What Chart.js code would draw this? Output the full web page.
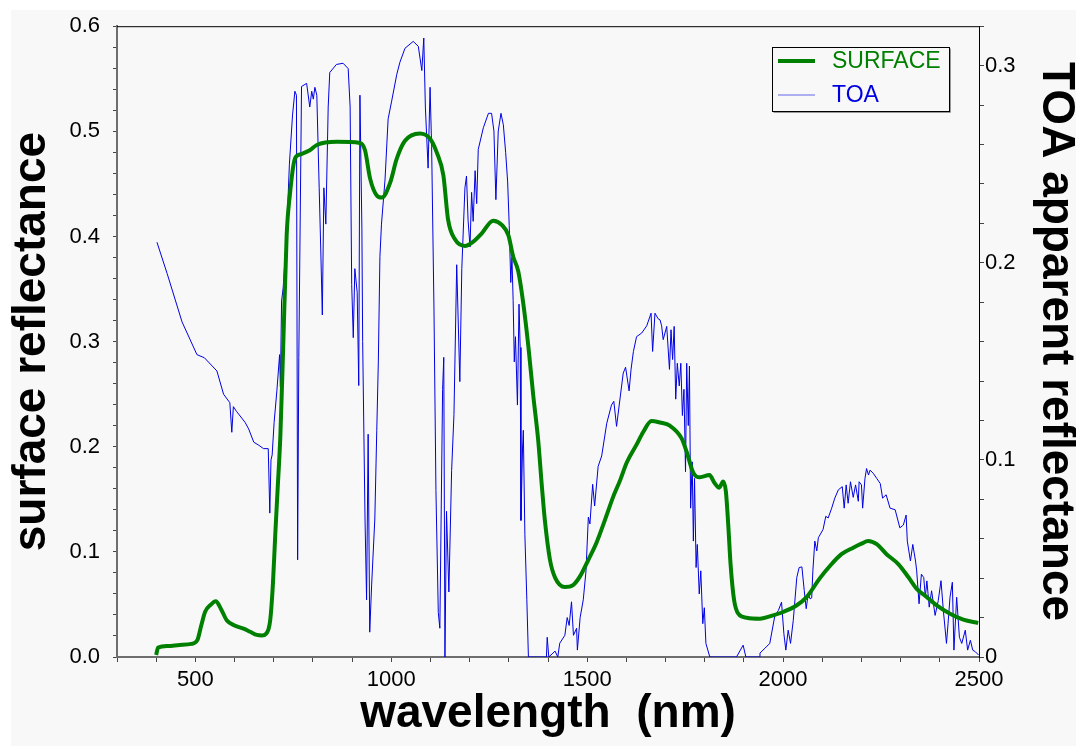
<!DOCTYPE html>
<html>
<head>
<meta charset="utf-8">
<title>surface and TOA reflectance</title>
<style>
    html, body { margin: 0; padding: 0; background: #ffffff; }
    #wrap { width: 1076px; height: 747px; }
</style>
</head>
<body>
<div id="wrap"><canvas id="myChart" width="1076" height="747"></canvas></div>

<script src="https://cdn.jsdelivr.net/npm/chart.js"></script>
<script>
// surface reflectance (left axis)
const surfaceWavelength = [
    400, 405, 430, 460, 490, 505, 515, 525, 540, 552, 565, 580, 600, 623, 640, 657, 670, 680, 691, 698,
    704, 710, 717, 724, 733, 741, 754, 767, 792, 810, 861, 920, 933, 946, 963, 976, 997, 1014, 1035, 1073,
    1099, 1116, 1133, 1145, 1163, 1188, 1209, 1231, 1260, 1282, 1299, 1311, 1324, 1337, 1350, 1362, 1375, 1384, 1392, 1405,
    1418, 1443, 1464, 1482, 1503, 1524, 1545, 1567, 1584, 1601, 1626, 1643, 1664, 1686, 1711, 1741, 1754, 1771, 1788, 1812,
    1826, 1837, 1847, 1854, 1860, 1866, 1875, 1886, 1907, 1941, 1966, 2000, 2034, 2060, 2094, 2120, 2149, 2179, 2200, 2217,
    2239, 2264, 2294, 2320, 2341, 2367, 2392, 2426, 2460, 2498
];
const surfaceValues = [
    0.002, 0.009, 0.0105, 0.0115, 0.0125, 0.016, 0.03, 0.043, 0.05, 0.053, 0.046, 0.035, 0.03, 0.027, 0.024, 0.021, 0.0205, 0.022, 0.035, 0.07,
    0.117, 0.16, 0.211, 0.293, 0.401, 0.439, 0.474, 0.478, 0.482, 0.487, 0.49, 0.489, 0.482, 0.455, 0.439, 0.437, 0.451, 0.474, 0.491, 0.498,
    0.493, 0.48, 0.458, 0.416, 0.397, 0.391, 0.395, 0.403, 0.415, 0.411, 0.401, 0.381, 0.367, 0.336, 0.295, 0.25, 0.206, 0.164, 0.13, 0.0925,
    0.0755, 0.0666, 0.0684, 0.0769, 0.0925, 0.109, 0.13, 0.153, 0.168, 0.185, 0.202, 0.214, 0.2245, 0.223, 0.22, 0.208, 0.195, 0.175, 0.171, 0.173,
    0.165, 0.161, 0.167, 0.1575, 0.126, 0.088, 0.054, 0.041, 0.0374, 0.0365, 0.0387, 0.0428, 0.049, 0.057, 0.075, 0.0868, 0.0978, 0.104, 0.1078, 0.1104,
    0.1073, 0.0978, 0.0884, 0.0758, 0.0648, 0.0569, 0.049, 0.0412, 0.0355, 0.0324
];

// TOA apparent reflectance (right axis)
const toaWavelength = [
    402, 428, 466, 504, 523, 555, 572, 588, 593, 597, 605, 627, 636, 649, 662, 674, 686, 690, 693, 696,
    701, 708, 715, 717, 720, 724, 733, 740, 748, 754, 758, 761, 764, 771, 784, 792, 797, 801, 805, 810,
    816, 820, 824, 828, 833, 839, 843, 860, 877, 890, 895, 899, 903, 907, 913, 917, 920, 925, 927, 933,
    937, 941, 945, 950, 958, 963, 967, 971, 975, 984, 992, 1001, 1014, 1022, 1035, 1056, 1069, 1078, 1083, 1087,
    1094, 1099, 1103, 1109, 1114, 1120, 1124, 1131, 1134, 1137, 1141, 1147, 1154, 1160, 1167, 1175, 1180, 1188, 1192, 1196,
    1201, 1205, 1209, 1214, 1218, 1222, 1235, 1248, 1256, 1262, 1267, 1273, 1280, 1286, 1292, 1297, 1301, 1305, 1308, 1311,
    1314, 1317, 1322, 1326, 1329, 1331, 1335, 1337, 1341, 1346, 1350, 1396, 1398, 1402, 1418, 1425, 1430, 1443, 1449, 1454,
    1460, 1465, 1473, 1475, 1482, 1490, 1497, 1503, 1507, 1514, 1519, 1528, 1537, 1550, 1562, 1568, 1575, 1584, 1592, 1598,
    1607, 1612, 1618, 1626, 1639, 1652, 1663, 1667, 1673, 1681, 1686, 1690, 1694, 1703, 1710, 1714, 1718, 1722, 1726, 1730,
    1735, 1739, 1743, 1747, 1751, 1754, 1758, 1761, 1764, 1768, 1771, 1774, 1778, 1781, 1786, 1790, 1795, 1799, 1803, 1813,
    1881, 1898, 1905, 1940, 1941, 1954, 1966, 1979, 1988, 1996, 2002, 2007, 2013, 2019, 2026, 2035, 2041, 2048, 2054, 2059,
    2064, 2069, 2073, 2076, 2081, 2086, 2090, 2102, 2109, 2115, 2124, 2132, 2141, 2151, 2156, 2161, 2166, 2172, 2179, 2185,
    2192, 2194, 2200, 2203, 2209, 2213, 2218, 2222, 2230, 2239, 2248, 2254, 2263, 2273, 2286, 2298, 2307, 2314, 2317, 2325,
    2331, 2338, 2341, 2347, 2353, 2359, 2363, 2367, 2373, 2379, 2388, 2396, 2403, 2409, 2417, 2421, 2426, 2432, 2436, 2443,
    2450, 2456, 2465, 2471, 2478, 2484, 2491, 2499
];
const toaValues = [
    0.2104, 0.1945, 0.170, 0.1534, 0.1518, 0.1451, 0.1333, 0.129, 0.114, 0.127, 0.1246, 0.119, 0.1157, 0.109, 0.1074, 0.1057, 0.1057, 0.073, 0.100, 0.1025,
    0.119, 0.135, 0.1534, 0.137, 0.1806, 0.187, 0.215, 0.25, 0.275, 0.287, 0.285, 0.0493, 0.152, 0.2894, 0.291, 0.279, 0.287, 0.283, 0.289, 0.285,
    0.238, 0.207, 0.1735, 0.238, 0.2196, 0.279, 0.2965, 0.3006, 0.3012, 0.2985, 0.279, 0.189, 0.162, 0.197, 0.185, 0.1377, 0.285, 0.2176, 0.160, 0.070,
    0.029, 0.113, 0.0126, 0.037, 0.070, 0.115, 0.1497, 0.203, 0.2196, 0.242, 0.273, 0.282, 0.2955, 0.3017, 0.3088, 0.3123, 0.3098, 0.2975, 0.314, 0.279,
    0.248, 0.289, 0.259, 0.1765, 0.0844, 0.0226, 0.0146, 0.1357, 0.152, 0, 0.0739, 0.033, 0.0945, 0.123, 0.199, 0.1397, 0.197, 0.238, 0.244, 0.2216,
    0.208, 0.2357, 0.221, 0.2467, 0.230, 0.2575, 0.2685, 0.2758, 0.2758, 0.2668, 0.232, 0.2668, 0.2758, 0.270, 0.2558, 0.241, 0.219, 0.190, 0.2027, 0.181,
    0.1497, 0.1625, 0.1278, 0.179, 0.157, 0.0693, 0.106, 0.115, 0.062, 0.029, 0, 0, 0.010, 0, 0.003, 0, 0.007, 0.011, 0.020, 0.016,
    0.028, 0.011, 0.0146, 0.0035, 0.020, 0.029, 0.0437, 0.071, 0.0675, 0.0876, 0.0766, 0.0967, 0.102, 0.1186, 0.1278, 0.1297, 0.117, 0.1314, 0.144, 0.147,
    0.135, 0.146, 0.155, 0.1625, 0.1643, 0.168, 0.1744, 0.155, 0.1744, 0.1716, 0.171, 0.168, 0.161, 0.1677, 0.1459, 0.166, 0.1509, 0.1677, 0.1308, 0.149,
    0.1375, 0.149, 0.1225, 0.1358, 0.094, 0.149, 0.1174, 0.1476, 0.0755, 0.099, 0.0588, 0.0906, 0.0454, 0.0571, 0.032, 0.0437, 0.0169, 0.025, 0.0069, 0,
    0, 0.006, 0, 0, 0.002, 0.0045, 0.0069, 0.021, 0.0236, 0.0278, 0.0119, 0.0035, 0.0136, 0.0069, 0.0186, 0.0404, 0.0454, 0.0457, 0.0337, 0.0245,
    0.032, 0.0295, 0.030, 0.0437, 0.0588, 0.0538, 0.0605, 0.0647, 0.0714, 0.0705, 0.0755, 0.0806, 0.0848, 0.0864, 0.0755, 0.0873, 0.078, 0.0889, 0.081, 0.0873,
    0.079, 0.0889, 0.0873, 0.0755, 0.0906, 0.0956, 0.0923, 0.0948, 0.0932, 0.0906, 0.088, 0.0806, 0.0823, 0.0755, 0.0747, 0.0655, 0.067, 0.072, 0.0588, 0.0487,
    0.0571, 0.0487, 0.0437, 0.027, 0.042, 0.0403, 0.0303, 0.0386, 0.0253, 0.0336, 0.0211, 0.0286, 0.0387, 0.0236, 0.0069, 0.0169, 0.0303, 0.0379, 0.0035, 0.0303,
    0.010, 0.0069, 0.0136, 0.0035, 0.0085, 0.0035, 0.0026, 0.001
];

const seriesNames = ['SURFACE', 'TOA'];
const axisTitles = ['wavelength  (nm)', 'surface reflectance', 'TOA apparent reflectance'];
const xRange = [300, 2500];
const leftRange = [0, 0.6];
const rightRange = [0, 0.32];

const fontFamily = '"Liberation Sans", Arial, Helvetica, sans-serif';
const green = 'rgb(0, 128, 0)';
const blue = 'rgb(0, 0, 225)';

function isMajor(v, step) {
    const r = v / step;
    return Math.abs(r - Math.round(r)) < 1e-6;
}

// page background + frame lines + legend drawn on the canvas
const framePlugin = {
    id: 'frame',
    beforeDraw(chart) {
        const c = chart.ctx;
        c.save();
        c.fillStyle = '#ffffff';
        c.fillRect(0, 0, chart.width, chart.height);
        c.fillStyle = '#f8f8f8';
        c.fillRect(11, 10, chart.width - 11, chart.height - 11);
        c.restore();
    },
    afterDraw(chart) {
        const c = chart.ctx;
        const a = chart.chartArea;
        c.save();
        c.strokeStyle = '#000000';
        c.lineWidth = 1;
        c.beginPath();
        c.moveTo(a.left, a.top + 0.5);
        c.lineTo(a.right, a.top + 0.5);
        c.stroke();

        // legend
        const lx = 772.5, ly = 47.5, lw = 177, lh = 64;
        c.strokeStyle = '#999999';
        c.beginPath();
        c.moveTo(lx + 1, ly + lh + 1);
        c.lineTo(lx + lw + 1, ly + lh + 1);
        c.lineTo(lx + lw + 1, ly + 1);
        c.stroke();
        c.fillStyle = '#f8f8f8';
        c.fillRect(lx, ly, lw, lh);
        c.strokeStyle = '#000000';
        c.strokeRect(lx, ly, lw, lh);

        const ds = chart.data.datasets;
        const rows = [61, 95];
        c.font = '23px ' + fontFamily;
        c.textBaseline = 'middle';
        c.textAlign = 'left';
        ds.forEach((d, i) => {
            c.strokeStyle = d.borderColor;
            c.lineWidth = i === 0 ? 4 : 1;
            c.globalAlpha = i === 0 ? 1 : 0.6;
            c.beginPath();
            c.moveTo(778, rows[i]);
            c.lineTo(815, rows[i]);
            c.stroke();
            c.globalAlpha = 1;
            c.fillStyle = d.borderColor;
            c.fillText(d.label, 832, rows[i] + 1);
        });
        c.restore();
    }
};

const ctx = document.getElementById('myChart');

new Chart(ctx, {
    type: 'line',
    data: {
        datasets: [
            {
                label: seriesNames[0],
                data: surfaceWavelength.map((w, i) => ({ x: w, y: surfaceValues[i] })),
                yAxisID: 'y',
                borderColor: green,
                borderWidth: 4,
                pointRadius: 0,
                fill: false,
                cubicInterpolationMode: 'monotone'
            },
            {
                label: seriesNames[1],
                data: toaWavelength.map((w, i) => ({ x: w, y: toaValues[i] })),
                yAxisID: 'y2',
                borderColor: blue,
                borderWidth: 1,
                pointRadius: 0,
                fill: false,
                tension: 0
            }
        ]
    },
    options: {
        responsive: false,
        animation: false,
        devicePixelRatio: 1,
        layout: { padding: { top: 21, left: 0, right: 0, bottom: 0 } },
        plugins: {
            legend: { display: false },
            tooltip: { enabled: false }
        },
        scales: {
            x: {
                type: 'linear',
                min: xRange[0],
                max: xRange[1],
                afterFit: s => { s.height = 90; },
                border: { display: true, color: '#6e6e6e', width: 2 },
                grid: { drawOnChartArea: false, drawTicks: true, tickLength: 5, color: '#444444' },
                ticks: {
                    stepSize: 100,
                    autoSkip: false,
                    maxRotation: 0,
                    padding: 5,
                    color: '#000000',
                    font: { family: fontFamily, size: 22 },
                    callback: v => (isMajor(v, 500) ? String(v) : '')
                },
                title: {
                    display: true,
                    text: axisTitles[0],
                    color: '#000000',
                    font: { family: fontFamily, size: 46, weight: 'bold', lineHeight: 1 },
                    padding: { top: 0, bottom: 10 }
                }
            },
            y: {
                type: 'linear',
                position: 'left',
                min: leftRange[0],
                max: leftRange[1],
                afterFit: s => { s.width = 117; },
                border: { display: true, color: '#6e6e6e', width: 2 },
                grid: { drawOnChartArea: false, drawTicks: true, tickLength: 4, color: '#444444' },
                ticks: {
                    stepSize: 0.02,
                    autoSkip: false,
                    padding: 13,
                    color: '#000000',
                    font: { family: fontFamily, size: 22 },
                    callback: v => (isMajor(v, 0.1) ? v.toFixed(1) : '')
                },
                title: {
                    display: true,
                    text: axisTitles[1],
                    color: '#000000',
                    font: { family: fontFamily, size: 46, weight: 'bold', lineHeight: 1 },
                    padding: { top: 9, bottom: 0 }
                }
            },
            y2: {
                type: 'linear',
                position: 'right',
                min: rightRange[0],
                max: rightRange[1],
                afterFit: s => { s.width = 97; },
                border: { display: true, color: '#000000', width: 1 },
                grid: { drawOnChartArea: false, drawTicks: true, tickLength: 5, color: '#444444' },
                ticks: {
                    stepSize: 0.02,
                    autoSkip: false,
                    padding: 1,
                    color: '#000000',
                    font: { family: fontFamily, size: 22 },
                    callback: v => (isMajor(v, 0.1) ? (v === 0 ? '0' : v.toFixed(1)) : '')
                },
                title: {
                    display: true,
                    text: axisTitles[2],
                    color: '#000000',
                    font: { family: fontFamily, size: 46, weight: 'bold', lineHeight: 1 },
                    padding: { top: -3, bottom: 0 }
                }
            }
        }
    },
    plugins: [framePlugin]
});
</script>
</body>
</html>
